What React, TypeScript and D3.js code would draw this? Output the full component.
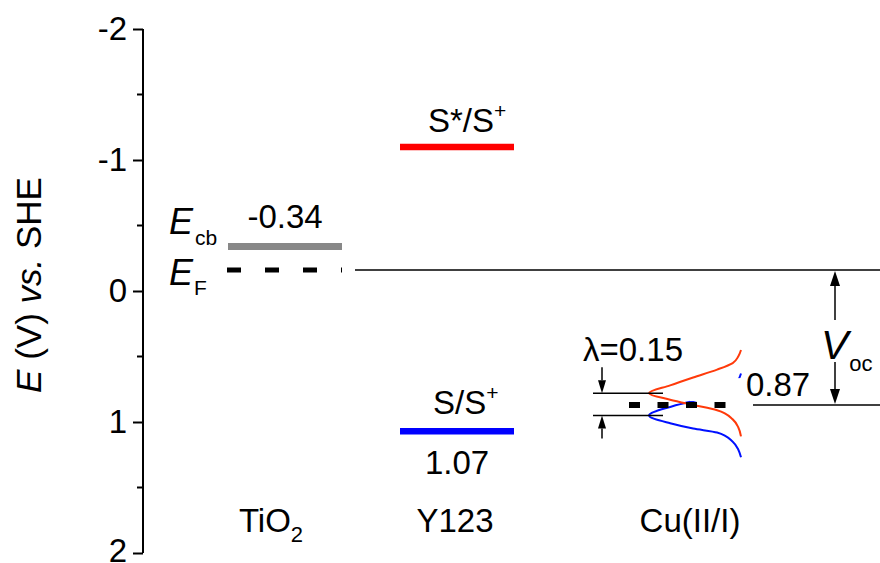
import React, { useEffect, useRef } from "react";
import * as d3 from "d3";

// categories along the bottom
const categories = ["TiO2", "Y123", "Cu(II/I)"];

// y axis (potential vs SHE, inverted)
const yTicks = [-2, -1, 0, 1, 2];
const yMinorTicks = [-1.5, -0.5, 0.5, 1.5];

// TiO2 levels
const conductionBand = -0.34;
const fermiLevel = -0.16;

// dye levels
const dyeLabels = ["S*/S", "S/S"];
const dyeLevels = [-1.1, 1.07];
const dyeColors = ["#ff0000", "#0000ff"];

// Cu(II/I) redox couple
const redoxPotential = 0.87;
const lambdaValue = 0.15;
const lambdaLevels = [0.78, 0.95];

// distribution curves: potential, relative density
const oxidizedE = [0.45, 0.5, 0.55, 0.6, 0.66, 0.72, 0.78, 0.83, 0.87, 0.91, 0.98, 1.04, 1.11];
const oxidizedD = [0.0, 0.03, 0.09, 0.26, 0.52, 0.77, 1.0, 0.77, 0.52, 0.26, 0.09, 0.03, 0.0];
const reducedE = [0.63, 0.68, 0.73, 0.79, 0.84, 0.885, 0.95, 1.01, 1.05, 1.08, 1.15, 1.21, 1.27];
const reducedD = [0.0, 0.03, 0.09, 0.26, 0.52, 0.77, 1.0, 0.77, 0.52, 0.26, 0.09, 0.03, 0.0];

const FONT = "'Liberation Sans', Arial, sans-serif";

function EnergyDiagram() {
  const ref = useRef<SVGSVGElement>(null);

  useEffect(() => {
    const svg = d3.select(ref.current);
    svg.selectAll("*").remove();

    const y = d3.scaleLinear().domain([-2, 2]).range([29, 553]);
    const xCat = d3.scaleOrdinal<string, number>().domain(categories).range([285, 457, 686]);
    const labelX = d3.scaleOrdinal<string, number>().domain(categories).range([271, 455, 690]);
    const halfBar = 57;
    const axisX = 143;
    const dens = d3.scaleLinear().domain([0, 1]).range([741, 649]);

    const g = svg.append("g").attr("font-family", FONT).attr("fill", "#000");

    // y axis
    const axis = d3
      .axisLeft(y)
      .tickValues(yTicks)
      .tickSize(10)
      .tickFormat((d) => String(d));
    const ag = g.append("g").attr("transform", `translate(${axisX},0)`).call(axis);
    ag.select(".domain").attr("d", `M0,${y(-2)}V${y(2)}`).attr("stroke", "#000").attr("stroke-width", 2);
    ag.selectAll(".tick line").attr("stroke", "#000").attr("stroke-width", 2);
    ag.selectAll<SVGTextElement, number>(".tick text")
      .attr("font-family", FONT)
      .attr("font-size", 33)
      .attr("fill", "#000")
      .attr("x", -16)
      .attr("dy", (d) => (d === 2 ? "0.26em" : "0.32em"));
    ag.selectAll(".minor")
      .data(yMinorTicks)
      .enter()
      .append("line")
      .attr("x1", -6)
      .attr("x2", 0)
      .attr("y1", (d) => y(d))
      .attr("y2", (d) => y(d))
      .attr("stroke", "#000")
      .attr("stroke-width", 2);

    // axis title
    const title = g
      .append("text")
      .attr("transform", `translate(41,${y(0) - 6}) rotate(-90)`)
      .attr("text-anchor", "middle")
      .attr("font-size", 35);
    title.append("tspan").attr("font-style", "italic").text("E");
    title.append("tspan").text(" (V) ");
    title.append("tspan").attr("font-style", "italic").text("vs.");
    title.append("tspan").text(" SHE");

    // TiO2 conduction band
    const cx0 = xCat("TiO2");
    g.append("line")
      .attr("x1", cx0 - halfBar)
      .attr("x2", cx0 + halfBar)
      .attr("y1", y(conductionBand))
      .attr("y2", y(conductionBand))
      .attr("stroke", "#888888")
      .attr("stroke-width", 7);
    g.append("text")
      .attr("x", cx0)
      .attr("y", y(conductionBand) - 18)
      .attr("text-anchor", "middle")
      .attr("font-size", 33)
      .text(conductionBand.toFixed(2));

    // Fermi level, dashed then thin line across
    g.append("line")
      .attr("x1", cx0 - halfBar - 1)
      .attr("x2", cx0 + halfBar)
      .attr("y1", y(fermiLevel))
      .attr("y2", y(fermiLevel))
      .attr("stroke", "#000")
      .attr("stroke-width", 5)
      .attr("stroke-dasharray", "14 24");
    g.append("line")
      .attr("x1", cx0 + halfBar + 13)
      .attr("x2", 880)
      .attr("y1", y(fermiLevel))
      .attr("y2", y(fermiLevel))
      .attr("stroke", "#000")
      .attr("stroke-width", 1.5);

    const ecb = g.append("text").attr("x", 169).attr("y", y(conductionBand) - 12).attr("font-size", 36);
    ecb.append("tspan").attr("font-style", "italic").text("E");
    ecb.append("tspan").attr("font-size", 21).attr("dx", 2).attr("dy", 11).text("cb");
    const ef = g.append("text").attr("x", 169).attr("y", y(fermiLevel) + 15).attr("font-size", 36);
    ef.append("tspan").attr("font-style", "italic").text("E");
    ef.append("tspan").attr("font-size", 21).attr("dx", 1).attr("dy", 10).text("F");

    // dye levels
    const cx1 = xCat("Y123");
    dyeLevels.forEach((v, i) => {
      g.append("line")
        .attr("x1", cx1 - halfBar)
        .attr("x2", cx1 + halfBar)
        .attr("y1", y(v))
        .attr("y2", y(v))
        .attr("stroke", dyeColors[i])
        .attr("stroke-width", 6.5);
      const t = g
        .append("text")
        .attr("x", i === 0 ? cx1 - 29 : cx1 - 24)
        .attr("y", y(v) - (i === 0 ? 15 : 17))
        .attr("font-size", 33);
      t.append("tspan").text(dyeLabels[i]);
      t.append("tspan").attr("font-size", 21).attr("dy", -14).text("+");
    });
    g.append("text")
      .attr("x", cx1)
      .attr("y", y(dyeLevels[1]) + 43)
      .attr("text-anchor", "middle")
      .attr("font-size", 33)
      .text(dyeLevels[1].toFixed(2));

    // Cu(II/I) distributions
    const curve = d3
      .line<[number, number]>()
      .x((d) => dens(d[1]))
      .y((d) => y(d[0]))
      .curve(d3.curveMonotoneY);
    const cx2 = xCat("Cu(II/I)");
    g.append("path")
      .attr("d", curve(reducedE.map((e, i) => [e, reducedD[i]] as [number, number])))
      .attr("fill", "none")
      .attr("stroke", "#0010ff")
      .attr("stroke-width", 2);
    // label background hides part of the reduced curve
    g.append("rect")
      .attr("x", 690)
      .attr("y", y(0.665))
      .attr("width", 58)
      .attr("height", y(0.84) - y(0.665))
      .attr("fill", "#fff");
    g.append("path")
      .attr("d", curve(oxidizedE.map((e, i) => [e, oxidizedD[i]] as [number, number])))
      .attr("fill", "none")
      .attr("stroke", "#ff3a0a")
      .attr("stroke-width", 2);

    g.append("line")
      .attr("x1", cx2 - halfBar)
      .attr("x2", cx2 + halfBar)
      .attr("y1", y(redoxPotential))
      .attr("y2", y(redoxPotential))
      .attr("stroke", "#000")
      .attr("stroke-width", 6)
      .attr("stroke-dasharray", "11 17.5");
    g.append("line")
      .attr("x1", 753)
      .attr("x2", 880)
      .attr("y1", y(redoxPotential))
      .attr("y2", y(redoxPotential))
      .attr("stroke", "#000")
      .attr("stroke-width", 1.5);
    g.append("text").attr("x", 746).attr("y", y(redoxPotential) - 9).attr("font-size", 33).text(redoxPotential.toFixed(2));

    // reorganisation energy bracket
    lambdaLevels.forEach((v) => {
      g.append("line")
        .attr("x1", 593)
        .attr("x2", 663)
        .attr("y1", y(v))
        .attr("y2", y(v))
        .attr("stroke", "#000")
        .attr("stroke-width", 1.5);
    });
    const ax = 602;
    const arrow = (x: number, tip: number, tail: number, headLen: number, halfW: number) => {
      const dir = tail > tip ? 1 : -1;
      g.append("line")
        .attr("x1", x)
        .attr("x2", x)
        .attr("y1", tip + dir * headLen)
        .attr("y2", tail)
        .attr("stroke", "#000")
        .attr("stroke-width", 1.5);
      g.append("path")
        .attr("d", `M${x},${tip}L${x - halfW},${tip + dir * headLen}L${x + halfW},${tip + dir * headLen}Z`)
        .attr("fill", "#000");
    };
    arrow(ax, y(lambdaLevels[0]), y(lambdaLevels[0]) - 26, 13, 4);
    arrow(ax, y(lambdaLevels[1]), y(lambdaLevels[1]) + 23, 13, 4);
    g.append("text")
      .attr("x", 583)
      .attr("y", y(lambdaLevels[0]) - 32)
      .attr("font-size", 33)
      .text(`\u03bb=${lambdaValue.toFixed(2)}`);

    // open-circuit voltage
    const vx = 835;
    arrow(vx, y(fermiLevel) + 1, 320, 15, 5);
    arrow(vx, y(redoxPotential) - 1, 362, 15, 5);
    const voc = g.append("text").attr("x", 821).attr("y", 359).attr("font-size", 41);
    voc.append("tspan").attr("font-style", "italic").text("V");
    voc.append("tspan").attr("font-size", 22).attr("dx", 1).attr("dy", 12).text("oc");

    // category labels
    categories.forEach((c) => {
      const t = g
        .append("text")
        .attr("x", labelX(c))
        .attr("y", 532)
        .attr("text-anchor", "middle")
        .attr("font-size", 33);
      if (c === "TiO2") {
        t.append("tspan").text("TiO");
        t.append("tspan").attr("font-size", 22).attr("dy", 10).text("2");
      } else {
        t.text(c);
      }
    });
  }, []);

  return (
    <svg
      ref={ref}
      width={880}
      height={563}
      style={{ position: "absolute", left: 0, top: 0, background: "#fff" }}
    />
  );
}

export default function App() {
  return <EnergyDiagram />;
}
